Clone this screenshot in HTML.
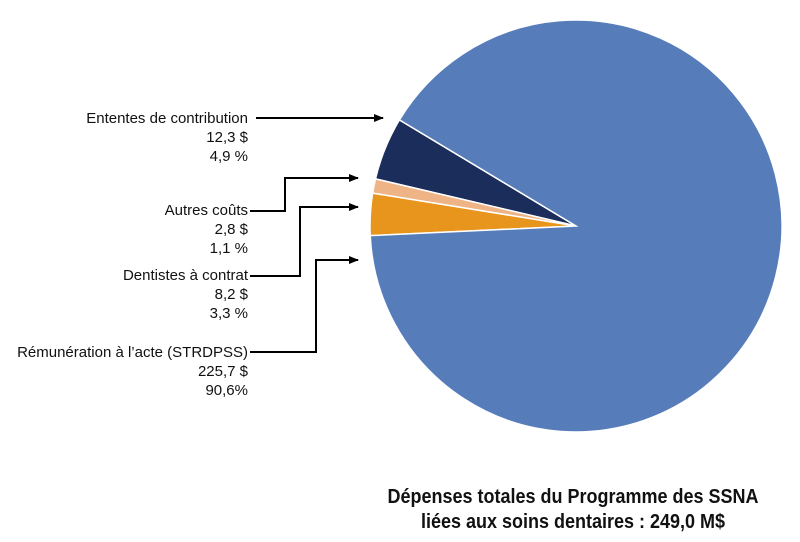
<!DOCTYPE html>
<html><head><meta charset="utf-8"><style>
body{margin:0;background:#fff;}
svg{display:block;font-family:"Liberation Sans Narrow","Liberation Sans",sans-serif;}
</style></head><body>
<svg id="chart" width="800" height="542" viewBox="0 0 800 542">
<defs><marker id="ah" markerUnits="userSpaceOnUse" markerWidth="10" markerHeight="8" refX="9" refY="4" orient="auto"><path d="M0,0 L10,4 L0,8 z" fill="#000"/></marker></defs>
<g id="slices"></g>
<g id="labels" font-size="15" fill="#111" transform="translate(248,0)"></g>
<g stroke="#000" stroke-width="2" fill="none">
<path d="M256,118 H383" marker-end="url(#ah)"/>
<path d="M250,211 H285 V178 H358" marker-end="url(#ah)"/>
<path d="M250,276 H300 V207 H358" marker-end="url(#ah)"/>
<path d="M250,352 H316 V260 H358" marker-end="url(#ah)"/>
</g>
<g transform="translate(573,0) scale(0.9,1)">
<text x="0" y="503" text-anchor="middle" font-size="20" font-weight="bold" fill="#111">Dépenses totales du Programme des SSNA</text>
<text x="0" y="528" text-anchor="middle" font-size="20" font-weight="bold" fill="#111">liées aux soins dentaires : 249,0 M$</text>
</g>
</svg>
<script>
const categories=["Ententes de contribution","Autres coûts","Dentistes à contrat","Rémunération à l’acte (STRDPSS)"];
const amounts=[12.3,2.8,8.2,225.7];
const amountLabels=["12,3 $","2,8 $","8,2 $","225,7 $"];
const percentLabels=["4,9 %","1,1 %","3,3 %","90,6%"];
const colors=["#1b2d5a","#efb486","#e8951d","#567dba"];
const labelY=[118,210,275,352];
const cx=576,cy=226,r=206,startDeg=149;
const NS="http://www.w3.org/2000/svg";
const total=amounts.reduce((a,b)=>a+b,0);
let a0=startDeg;
const sg=document.getElementById('slices');
function pt(d){const t=d*Math.PI/180;return [cx+r*Math.cos(t),cy-r*Math.sin(t)];}
amounts.forEach((v,i)=>{
 const sweep=v/total*360,a1=a0+sweep;
 const p0=pt(a0),p1=pt(a1);
 const p=document.createElementNS(NS,'path');
 p.setAttribute('d',`M${cx},${cy} L${p0[0]},${p0[1]} A${r},${r} 0 ${sweep>180?1:0} 0 ${p1[0]},${p1[1]} Z`);
 p.setAttribute('fill',colors[i]);p.setAttribute('stroke','#fff');p.setAttribute('stroke-width','1.5');
 
 
 sg.appendChild(p);a0=a1;
});
const lg=document.getElementById('labels');
categories.forEach((c,i)=>{
 [c,amountLabels[i],percentLabels[i]].forEach((s,j)=>{
  const t=document.createElementNS(NS,'text');
  t.setAttribute('x',0);t.setAttribute('y',labelY[i]+5+j*19);t.setAttribute('text-anchor','end');
  t.textContent=s;
  
  
  lg.appendChild(t);
 });
});
</script>
</body></html>
